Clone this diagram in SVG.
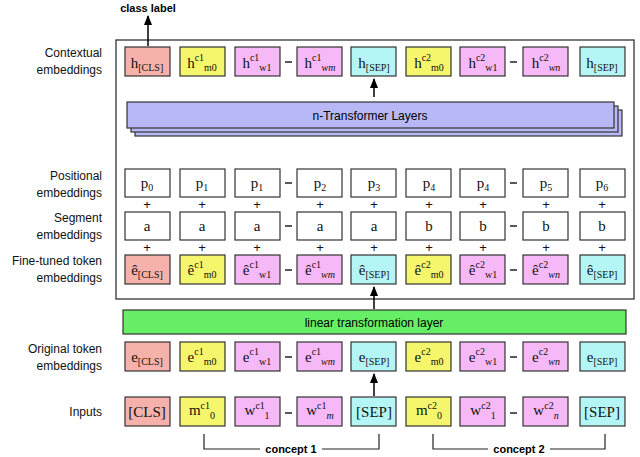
<svg xmlns="http://www.w3.org/2000/svg" width="640" height="457" viewBox="0 0 640 457">
<defs>
<marker id="ah" viewBox="0 0 10 10" refX="9" refY="5" markerWidth="7" markerHeight="7" orient="auto"><path d="M0,1 L10,5 L0,9 z" fill="#000"/></marker>
<style>
.b{stroke:#333;stroke-width:1.2}
.r{fill:#f6b1aa}.y{fill:#f6f66c}.p{fill:#f6b8f6}.c{fill:#b4f6f6}.w{fill:#fff}
.t{font-family:"Liberation Serif",serif;font-size:15px;text-anchor:middle;fill:#111}
.s{font-size:10px}
.l{font-family:"Liberation Sans",sans-serif;font-size:12px;text-anchor:end;fill:#111}
.pl{font-family:"Liberation Sans",sans-serif;font-size:13px;text-anchor:middle;fill:#111}
.d{stroke:#222;stroke-width:1.5}
.a{stroke:#000;stroke-width:1.5;fill:none;marker-end:url(#ah)}
</style>
</defs>
<rect width="640" height="457" fill="#fff"/>
<text x="148" y="12" font-family="Liberation Sans,sans-serif" font-size="11" font-weight="bold" text-anchor="middle">class label</text>
<rect x="116" y="40" width="518" height="259" fill="none" stroke="#222" stroke-width="1.2"/>

<g id="labels">
<text class="l" x="102" y="57">Contextual</text><text class="l" x="102" y="74">embeddings</text>
<text class="l" x="102" y="180">Positional</text><text class="l" x="102" y="197">embeddings</text>
<text class="l" x="102" y="222">Segment</text><text class="l" x="102" y="239">embeddings</text>
<text class="l" x="102" y="265">Fine-tuned token</text><text class="l" x="102" y="282">embeddings</text>
<text class="l" x="102" y="353">Original token</text><text class="l" x="102" y="370">embeddings</text>
<text class="l" x="102" y="416">Inputs</text>
</g>

<g id="contextual">
<rect class="b r" x="125" y="47" width="45" height="29"/><text class="t" x="147" y="68">h<tspan class="s" dy="3">[CLS]</tspan></text>
<rect class="b y" x="180" y="47" width="45" height="29"/><text class="t" x="202" y="68">h<tspan class="s" dy="-7">c1</tspan><tspan class="s" dy="10">m0</tspan></text>
<rect class="b p" x="235" y="47" width="45" height="29"/><text class="t" x="257" y="68">h<tspan class="s" dy="-7">c1</tspan><tspan class="s" dy="10">w1</tspan></text>
<rect class="b p" x="297" y="47" width="45" height="29"/><text class="t" x="320" y="68">h<tspan class="s" dy="-7">c1</tspan><tspan class="s" dy="10" font-style="italic">wm</tspan></text>
<rect class="b c" x="351" y="47" width="45" height="29"/><text class="t" x="374" y="68">h<tspan class="s" dy="3">[SEP]</tspan></text>
<rect class="b y" x="406" y="47" width="45" height="29"/><text class="t" x="429" y="68">h<tspan class="s" dy="-7">c2</tspan><tspan class="s" dy="10">m0</tspan></text>
<rect class="b p" x="460" y="47" width="45" height="29"/><text class="t" x="483" y="68">h<tspan class="s" dy="-7">c2</tspan><tspan class="s" dy="10">w1</tspan></text>
<rect class="b p" x="523" y="47" width="45" height="29"/><text class="t" x="546" y="68">h<tspan class="s" dy="-7">c2</tspan><tspan class="s" dy="10" font-style="italic">wn</tspan></text>
<rect class="b c" x="580" y="47" width="45" height="29"/><text class="t" x="602" y="68">h<tspan class="s" dy="3">[SEP]</tspan></text>
<line class="d" x1="285" y1="62" x2="292" y2="62"/><line class="d" x1="510" y1="62" x2="517" y2="62"/>
</g>

<g id="transformer">
<rect x="135" y="110" width="487" height="26" fill="#b8b8f6" stroke="#333" stroke-width="1.2"/>
<rect x="131" y="106" width="487" height="26" fill="#b8b8f6" stroke="#333" stroke-width="1.2"/>
<rect x="127" y="102" width="487" height="26" fill="#b8b8f6" stroke="#333" stroke-width="1.2"/>
<text x="370" y="120" font-family="Liberation Sans,sans-serif" font-size="12" text-anchor="middle">n-Transformer Layers</text>
</g>

<g id="positional">
<rect class="b w" x="125" y="169" width="45" height="28"/><text class="t" x="147" y="188">p<tspan class="s" dy="3">0</tspan></text>
<rect class="b w" x="180" y="169" width="45" height="28"/><text class="t" x="202" y="188">p<tspan class="s" dy="3">1</tspan></text>
<rect class="b w" x="235" y="169" width="45" height="28"/><text class="t" x="257" y="188">p<tspan class="s" dy="3">1</tspan></text>
<rect class="b w" x="297" y="169" width="45" height="28"/><text class="t" x="320" y="188">p<tspan class="s" dy="3">2</tspan></text>
<rect class="b w" x="351" y="169" width="45" height="28"/><text class="t" x="374" y="188">p<tspan class="s" dy="3">3</tspan></text>
<rect class="b w" x="406" y="169" width="45" height="28"/><text class="t" x="429" y="188">p<tspan class="s" dy="3">4</tspan></text>
<rect class="b w" x="460" y="169" width="45" height="28"/><text class="t" x="483" y="188">p<tspan class="s" dy="3">4</tspan></text>
<rect class="b w" x="523" y="169" width="45" height="28"/><text class="t" x="546" y="188">p<tspan class="s" dy="3">5</tspan></text>
<rect class="b w" x="580" y="169" width="45" height="28"/><text class="t" x="602" y="188">p<tspan class="s" dy="3">6</tspan></text>
<line class="d" x1="285" y1="183" x2="292" y2="183"/><line class="d" x1="510" y1="183" x2="517" y2="183"/>
</g>

<g id="plus">
<text class="pl" x="147" y="209">+</text><text class="pl" x="202" y="209">+</text><text class="pl" x="257" y="209">+</text><text class="pl" x="320" y="209">+</text><text class="pl" x="374" y="209">+</text><text class="pl" x="429" y="209">+</text><text class="pl" x="483" y="209">+</text><text class="pl" x="546" y="209">+</text><text class="pl" x="602" y="209">+</text>
<text class="pl" x="147" y="252">+</text><text class="pl" x="202" y="252">+</text><text class="pl" x="257" y="252">+</text><text class="pl" x="320" y="252">+</text><text class="pl" x="374" y="252">+</text><text class="pl" x="429" y="252">+</text><text class="pl" x="483" y="252">+</text><text class="pl" x="546" y="252">+</text><text class="pl" x="602" y="252">+</text>
</g>

<g id="segment">
<rect class="b w" x="125" y="212" width="45" height="28"/><text class="t" x="147" y="231">a</text>
<rect class="b w" x="180" y="212" width="45" height="28"/><text class="t" x="202" y="231">a</text>
<rect class="b w" x="235" y="212" width="45" height="28"/><text class="t" x="257" y="231">a</text>
<rect class="b w" x="297" y="212" width="45" height="28"/><text class="t" x="320" y="231">a</text>
<rect class="b w" x="351" y="212" width="45" height="28"/><text class="t" x="374" y="231">a</text>
<rect class="b w" x="406" y="212" width="45" height="28"/><text class="t" x="429" y="231">b</text>
<rect class="b w" x="460" y="212" width="45" height="28"/><text class="t" x="483" y="231">b</text>
<rect class="b w" x="523" y="212" width="45" height="28"/><text class="t" x="546" y="231">b</text>
<rect class="b w" x="580" y="212" width="45" height="28"/><text class="t" x="602" y="231">b</text>
<line class="d" x1="285" y1="226" x2="292" y2="226"/><line class="d" x1="510" y1="226" x2="517" y2="226"/>
</g>

<g id="finetuned">
<rect class="b r" x="125" y="255" width="45" height="29"/><text class="t" x="147" y="275">ê<tspan class="s" dy="3">[CLS]</tspan></text>
<rect class="b y" x="180" y="255" width="45" height="29"/><text class="t" x="202" y="275">ê<tspan class="s" dy="-7">c1</tspan><tspan class="s" dy="10">m0</tspan></text>
<rect class="b p" x="235" y="255" width="45" height="29"/><text class="t" x="257" y="275">ê<tspan class="s" dy="-7">c1</tspan><tspan class="s" dy="10">w1</tspan></text>
<rect class="b p" x="297" y="255" width="45" height="29"/><text class="t" x="320" y="275">ê<tspan class="s" dy="-7">c1</tspan><tspan class="s" dy="10" font-style="italic">wm</tspan></text>
<rect class="b c" x="351" y="255" width="45" height="29"/><text class="t" x="374" y="275">ê<tspan class="s" dy="3">[SEP]</tspan></text>
<rect class="b y" x="406" y="255" width="45" height="29"/><text class="t" x="429" y="275">ê<tspan class="s" dy="-7">c2</tspan><tspan class="s" dy="10">m0</tspan></text>
<rect class="b p" x="460" y="255" width="45" height="29"/><text class="t" x="483" y="275">ê<tspan class="s" dy="-7">c2</tspan><tspan class="s" dy="10">w1</tspan></text>
<rect class="b p" x="523" y="255" width="45" height="29"/><text class="t" x="546" y="275">ê<tspan class="s" dy="-7">c2</tspan><tspan class="s" dy="10" font-style="italic">wn</tspan></text>
<rect class="b c" x="580" y="255" width="45" height="29"/><text class="t" x="602" y="275">ê<tspan class="s" dy="3">[SEP]</tspan></text>
<line class="d" x1="285" y1="270" x2="292" y2="270"/><line class="d" x1="510" y1="270" x2="517" y2="270"/>
</g>

<g id="linear">
<rect x="123" y="310" width="503" height="24" fill="#66ee66" stroke="#333" stroke-width="1.2"/>
<text x="374" y="327" font-family="Liberation Sans,sans-serif" font-size="12" text-anchor="middle">linear transformation layer</text>
</g>

<g id="original">
<rect class="b r" x="125" y="342" width="45" height="29"/><text class="t" x="147" y="362">e<tspan class="s" dy="3">[CLS]</tspan></text>
<rect class="b y" x="180" y="342" width="45" height="29"/><text class="t" x="202" y="362">e<tspan class="s" dy="-7">c1</tspan><tspan class="s" dy="10">m0</tspan></text>
<rect class="b p" x="235" y="342" width="45" height="29"/><text class="t" x="257" y="362">e<tspan class="s" dy="-7">c1</tspan><tspan class="s" dy="10">w1</tspan></text>
<rect class="b p" x="297" y="342" width="45" height="29"/><text class="t" x="320" y="362">e<tspan class="s" dy="-7">c1</tspan><tspan class="s" dy="10" font-style="italic">wm</tspan></text>
<rect class="b c" x="351" y="342" width="45" height="29"/><text class="t" x="374" y="362">e<tspan class="s" dy="3">[SEP]</tspan></text>
<rect class="b y" x="406" y="342" width="45" height="29"/><text class="t" x="429" y="362">e<tspan class="s" dy="-7">c2</tspan><tspan class="s" dy="10">m0</tspan></text>
<rect class="b p" x="460" y="342" width="45" height="29"/><text class="t" x="483" y="362">e<tspan class="s" dy="-7">c2</tspan><tspan class="s" dy="10">w1</tspan></text>
<rect class="b p" x="523" y="342" width="45" height="29"/><text class="t" x="546" y="362">e<tspan class="s" dy="-7">c2</tspan><tspan class="s" dy="10" font-style="italic">wn</tspan></text>
<rect class="b c" x="580" y="342" width="45" height="29"/><text class="t" x="602" y="362">e<tspan class="s" dy="3">[SEP]</tspan></text>
<line class="d" x1="285" y1="357" x2="292" y2="357"/><line class="d" x1="510" y1="357" x2="517" y2="357"/>
</g>

<g id="inputs">
<rect class="b r" x="125" y="397" width="45" height="29"/><text class="t" x="147" y="417">[CLS]</text>
<rect class="b y" x="180" y="397" width="45" height="29"/><text class="t" x="202" y="415">m<tspan class="s" dy="-6">c1</tspan><tspan class="s" dy="10">0</tspan></text>
<rect class="b p" x="235" y="397" width="45" height="29"/><text class="t" x="257" y="415">w<tspan class="s" dy="-6">c1</tspan><tspan class="s" dy="10">1</tspan></text>
<rect class="b p" x="297" y="397" width="45" height="29"/><text class="t" x="320" y="415">w<tspan class="s" dy="-6">c1</tspan><tspan class="s" dy="10" font-style="italic">m</tspan></text>
<rect class="b c" x="351" y="397" width="45" height="29"/><text class="t" x="374" y="417">[SEP]</text>
<rect class="b y" x="406" y="397" width="45" height="29"/><text class="t" x="429" y="415">m<tspan class="s" dy="-6">c2</tspan><tspan class="s" dy="10">0</tspan></text>
<rect class="b p" x="460" y="397" width="45" height="29"/><text class="t" x="483" y="415">w<tspan class="s" dy="-6">c2</tspan><tspan class="s" dy="10">1</tspan></text>
<rect class="b p" x="523" y="397" width="45" height="29"/><text class="t" x="546" y="415">w<tspan class="s" dy="-6">c2</tspan><tspan class="s" dy="10" font-style="italic">n</tspan></text>
<rect class="b c" x="580" y="397" width="45" height="29"/><text class="t" x="602" y="417">[SEP]</text>
<line class="d" x1="285" y1="413" x2="292" y2="413"/><line class="d" x1="510" y1="413" x2="517" y2="413"/>
</g>

<g id="connectors">
<line class="a" x1="148" y1="46" x2="148" y2="16"/>
<line class="a" x1="374" y1="97" x2="374" y2="79"/>
<line class="a" x1="374" y1="309" x2="374" y2="287"/>
<line class="a" x1="374" y1="396" x2="374" y2="374"/>
<path d="M204,434 V449 H260 M322,449 H379 V434" fill="none" stroke="#222" stroke-width="1.2"/>
<path d="M433,434 V449 H488 M550,449 H605 V434" fill="none" stroke="#222" stroke-width="1.2"/>
<text x="291" y="453" font-family="Liberation Sans,sans-serif" font-size="11" font-weight="bold" text-anchor="middle">concept 1</text>
<text x="519" y="453" font-family="Liberation Sans,sans-serif" font-size="11" font-weight="bold" text-anchor="middle">concept 2</text>
</g>
</svg>
